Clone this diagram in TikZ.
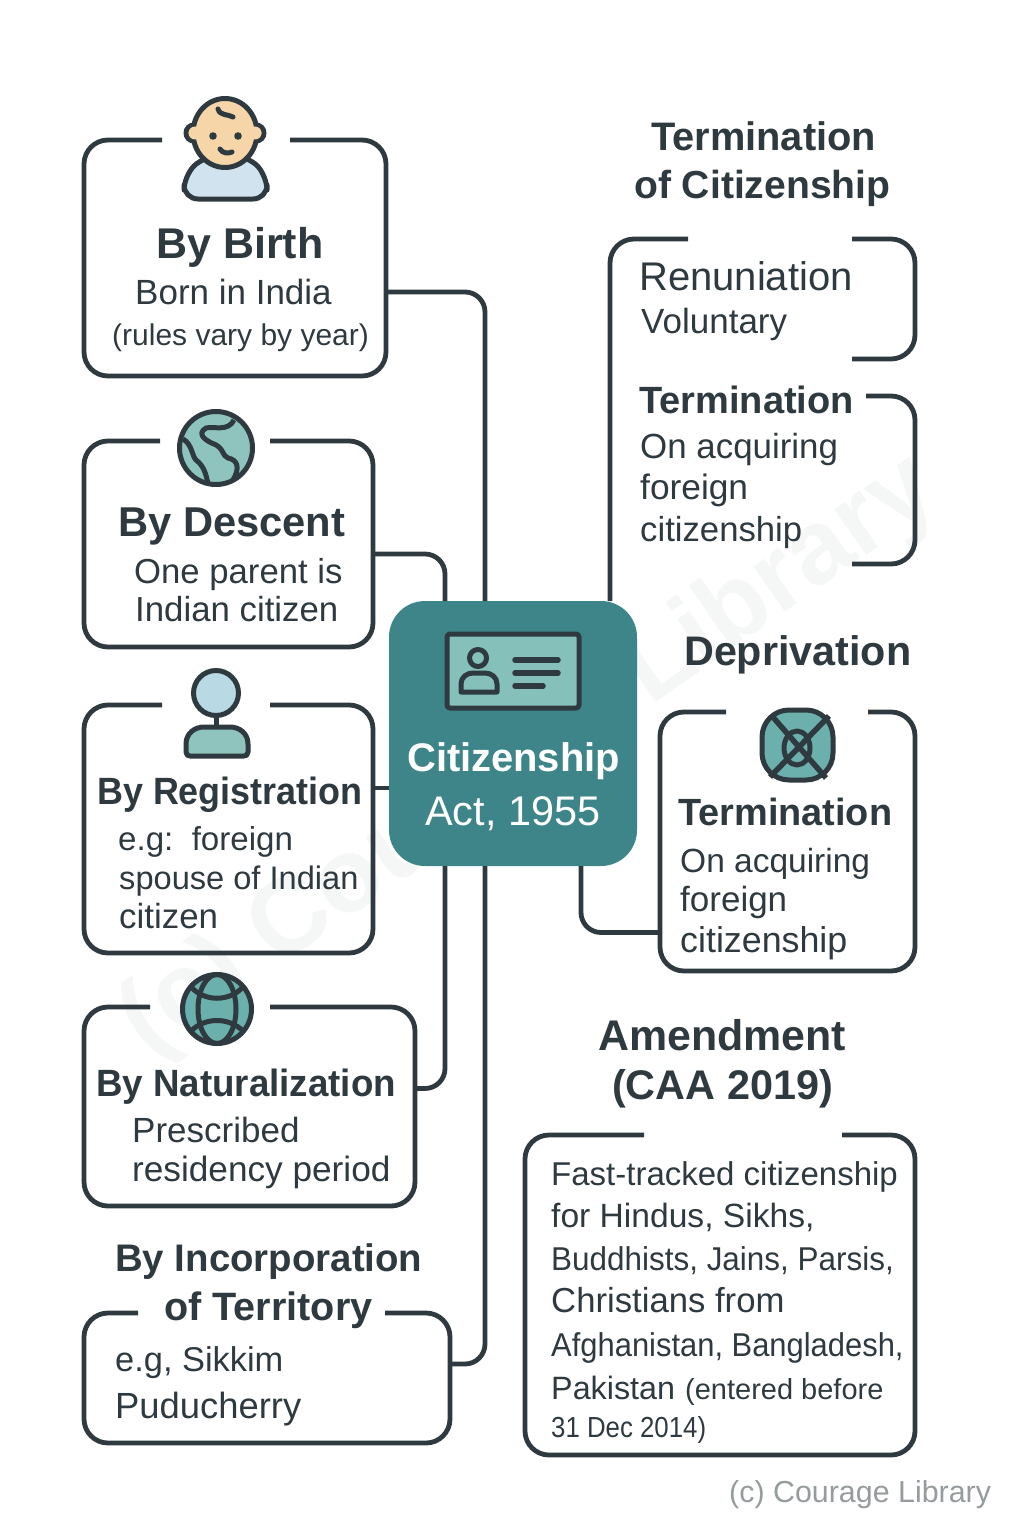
\documentclass[tikz,border=0pt]{standalone}
\usepackage{fontspec}
\usepackage{xcolor}
\usepackage{tikz}
\setmainfont{Liberation Sans}
\definecolor{ink}{RGB}{46, 58, 64}
\definecolor{actteal}{RGB}{62, 133, 138}
\definecolor{cardteal}{RGB}{133, 193, 186}
\definecolor{skin}{RGB}{246, 213, 168}
\definecolor{shirt}{RGB}{210, 227, 240}
\definecolor{globeteal}{RGB}{143, 196, 190}
\definecolor{headblue}{RGB}{185, 218, 229}
\definecolor{darkteal}{RGB}{107, 176, 172}
\definecolor{stamp}{RGB}{150, 155, 158}
\definecolor{ghost}{RGB}{245, 246, 246}
\newcommand{\fs}[1]{\fontsize{#1}{#1}\selectfont}
\newcommand{\squeeze}[2]{\scalebox{#1}[1]{#2}}
\newcommand{\openpanel}[3]{\draw[frame] ([xshift=#2pt]#1.north west) -- (#1.north west) -- (#1.south west) -- (#1.south east) -- (#1.north east) -- ([xshift=-#3pt]#1.north east);}
\tikzset{
	panel/.style = {rectangle, inner sep=0pt, outer sep=0pt},
	frame/.style = {draw=ink, line width=4.8pt, rounded corners=24pt},
	wire/.style = {draw=ink, line width=4.8pt, rounded corners=20pt},
	icon/.style = {draw=ink, line width=5pt, line join=round},
	lab/.style = {anchor=base west, inner sep=0pt, text=ink},
}
\begin{document}
\begin{tikzpicture}[x=1pt, y=-1pt]
	\useasboundingbox (0,0) rectangle (1024,1536);
	\node[rotate=35, text=ghost, font=\bfseries\fs{105}] (mark) at (530,758) {(c) Courage Library};

	% boxes
	\node[panel, minimum width=302pt, minimum height=236pt] (birth) at (235,258) {};
	\node[panel, minimum width=289pt, minimum height=206pt] (descent) at (228.5,544) {};
	\node[panel, minimum width=289pt, minimum height=248pt] (registration) at (228.5,829) {};
	\node[panel, minimum width=331pt, minimum height=199pt] (naturalization) at (249.5,1106.5) {};
	\node[panel, minimum width=366pt, minimum height=130pt] (incorporation) at (267,1378) {};
	\node[panel, minimum width=305pt, minimum height=120pt] (renunciation) at (762.5,299) {};
	\node[panel, minimum width=305pt, minimum height=168pt] (termination) at (762.5,480) {};
	\node[panel, minimum width=255pt, minimum height=259pt] (deprivation) at (787.5,841.5) {};
	\node[panel, minimum width=390pt, minimum height=320pt] (amendment) at (720,1295) {};
	\node[panel, fill=actteal, rounded corners=36pt, minimum width=248pt, minimum height=265pt] (act) at (513,733.5) {};

	% connectors
	\draw[wire] ([yshift=-34pt]birth.east) -| ([xshift=-28pt]act.north);
	\draw[wire] ([yshift=-10pt]descent.east) -| ([xshift=-68pt]act.north);
	\draw[wire] ([yshift=41pt]registration.east) -- ([yshift=-54.5pt]act.west);
	\draw[wire] ([yshift=18pt]naturalization.east) -| ([xshift=-68pt]act.south);
	\draw[wire] ([yshift=14pt]incorporation.east) -| ([xshift=-28pt]act.south);
	\draw[wire] ([yshift=-91pt]deprivation.west) -| ([xshift=68pt]act.south);
	\draw[frame] ([xshift=78pt]renunciation.north west) -- (renunciation.north west) -- (renunciation.west |- act.north);

	\openpanel{birth}{78}{96}
	\openpanel{descent}{76}{103}
	\openpanel{registration}{78}{103}
	\openpanel{naturalization}{66}{145}
	\openpanel{incorporation}{54}{65}
	\openpanel{deprivation}{66}{47}
	\openpanel{amendment}{119}{73}
	\draw[frame] ([xshift=-63pt]renunciation.north east) -- (renunciation.north east) -- (renunciation.south east) -- ([xshift=-63pt]renunciation.south east);
	\draw[frame] ([xshift=-49pt]termination.north east) -- (termination.north east) -- (termination.south east) -- ([xshift=-63pt]termination.south east);

	% baby
	\draw[icon, fill=shirt, rounded corners=14pt] (184,199) -- (184,176) -- (204,156) -- (248,156) -- (267,176) -- (267,199) -- cycle;
	\draw[icon, fill=skin] (194,133) circle (8);
	\draw[icon, fill=skin] (256,133) circle (8);
	\draw[icon, fill=skin] (225,133) ellipse (32 and 34.5);
	\fill[skin] (195,133) circle (6.5) (255,133) circle (6.5);
	\fill[ink] (213,136) circle (3.8) (238,136) circle (3.8);
	\draw[ink, line width=5pt, line cap=round] (218,109) .. controls (220,116) and (228,114) .. (233,117);
	\draw[ink, line width=5pt, line cap=round] (220,149) .. controls (222,153) and (228,154) .. (232,152);

	% first globe
	\draw[icon, fill=globeteal] (216,448) circle (36.5);
	\draw[ink, line width=5pt] (234,420) .. controls (228,432) and (214,426) .. (206,428) .. controls (196,434) and (206,441) .. (214,444) .. controls (224,448) and (222,456) .. (228,458) .. controls (238,460) and (240,468) .. (233,480);
	\draw[ink, line width=5pt] (183,439) .. controls (192,444) and (192,456) .. (196,460) .. controls (204,466) and (206,474) .. (208,484);

	% person
	\draw[icon] (216,716) -- (216,730);
	\draw[icon, fill=headblue] (216,693) circle (22.5);
	\draw[icon, fill=globeteal] (186,752) -- (186,744) .. controls (186,733) and (195,727) .. (204,727) -- (230,727) .. controls (239,727) and (248,733) .. (248,744) -- (248,752) .. controls (248,755) and (246,756) .. (244,756) -- (190,756) .. controls (188,756) and (186,755) .. (186,752) -- cycle;

	% second globe
	\draw[icon, fill=darkteal] (217,1009) circle (34.5);
	\draw[icon] (217,1009) ellipse (19 and 34.5);
	\draw[icon] (191,987) .. controls (205,1002) and (229,1002) .. (243,987);
	\draw[icon] (191,1031) .. controls (205,1017) and (229,1017) .. (243,1031);

	% card
	\draw[icon, fill=cardteal, rounded corners=3pt] (447,634) rectangle (579,708);
	\draw[icon] (478,658) circle (8.5);
	\draw[icon] (461,692) -- (461,684) .. controls (461,677) and (467,673) .. (473,673) -- (485,673) .. controls (491,673) and (497,677) .. (497,684) -- (497,692) -- cycle;
	\draw[ink, line width=5.5pt, line cap=round] (515,660) -- (558,660);
	\draw[ink, line width=5.5pt, line cap=round] (515,673) -- (558,673);
	\draw[ink, line width=5.5pt, line cap=round] (515,686) -- (543,686);

	% crossed disc
	\draw[icon, fill=darkteal, rounded corners=27pt] (762,710) rectangle (833,780);
	\draw[icon] (797,748) ellipse (13 and 17);
	\draw[ink, line width=5.5pt] (772,716) -- (826,778);
	\draw[ink, line width=5.5pt] (829,716) -- (770,777);

	% left column
	\node[lab, font=\bfseries\fs{43}] (birthhead) at (156,258.5) {By Birth};
	\node[lab, font=\fs{35}] (birthone) at (135,304) {Born in India};
	\node[lab, font=\fs{30}] (birthtwo) at (112,345) {(rules vary by year)};
	\node[lab, font=\bfseries\fs{41.7}] (descenthead) at (118,536.5) {By Descent};
	\node[lab, font=\fs{34.7}] (descentone) at (134,583.5) {One parent is};
	\node[lab, font=\fs{34.8}] (descenttwo) at (135,621.5) {Indian citizen};
	\node[lab, font=\bfseries\fs{38}] (reghead) at (97,804.5) {\squeeze{0.945}{By Registration}};
	\node[lab, font=\fs{33.1}] (regone) at (118,850) {e.g:\ \ foreign};
	\node[lab, font=\fs{32.6}] (regtwo) at (119,889.5) {spouse of Indian};
	\node[lab, font=\fs{34.9}] (regthree) at (119,928.5) {citizen};
	\node[lab, font=\bfseries\fs{38}] (nathead) at (96,1096.5) {\squeeze{0.966}{By Naturalization}};
	\node[lab, font=\fs{35}] (natone) at (132,1142) {Prescribed};
	\node[lab, font=\fs{35.2}] (nattwo) at (132,1181.5) {residency period};
	\node[lab, font=\bfseries\fs{38.4}] (inchead) at (115,1271.5) {By Incorporation};
	\node[lab, font=\bfseries\fs{39.6}] (inctwo) at (164,1320.5) {of Territory};
	\node[lab, font=\fs{34.4}] (incone) at (115,1371) {e.g, Sikkim};
	\node[lab, font=\fs{36.4}] (incthree) at (115,1418) {Puducherry};

	% centre
	\node[lab, text=white, font=\bfseries\fs{39.9}] (acthead) at (407,771.5) {Citizenship};
	\node[lab, text=white, font=\fs{41.4}] (acttwo) at (425,825) {Act, 1955};

	% right column
	\node[lab, font=\bfseries\fs{39.8}] (termhead) at (651,150) {Termination};
	\node[lab, font=\bfseries\fs{39.1}] (termtwo) at (634,198) {of Citizenship};
	\node[lab, font=\fs{40}] (renone) at (639,290) {Renuniation};
	\node[lab, font=\fs{35}] (rentwo) at (641,333) {Voluntary};
	\node[lab, font=\bfseries\fs{38}] (tbhead) at (639,413) {Termination};
	\node[lab, font=\fs{34.9}] (tbone) at (640,458.5) {On acquiring};
	\node[lab, font=\fs{35.3}] (tbtwo) at (640,499) {foreign};
	\node[lab, font=\fs{34.7}] (tbthree) at (640,541) {citizenship};
	\node[lab, font=\bfseries\fs{41.3}] (dephead) at (684,665) {Deprivation};
	\node[lab, font=\bfseries\fs{37.9}] (dbhead) at (678,825.5) {Termination};
	\node[lab, font=\fs{33.5}] (dbone) at (680,872) {On acquiring};
	\node[lab, font=\fs{35}] (dbtwo) at (680,911.5) {foreign};
	\node[lab, font=\fs{35.8}] (dbthree) at (680,952) {citizenship};
	\node[lab, font=\bfseries\fs{42.9}] (amdhead) at (598,1050.5) {Amendment};
	\node[lab, font=\bfseries\fs{41.4}] (amdtwo) at (612,1099.5) {(CAA 2019)};
	\node[lab, font=\fs{33}] (amdone) at (551,1185) {Fast-tracked citizenship};
	\node[lab, font=\fs{33.6}] (amdb) at (551,1227) {for Hindus, Sikhs,};
	\node[lab, font=\fs{33}] (amdc) at (551,1270) {\squeeze{0.953}{Buddhists, Jains, Parsis,}};
	\node[lab, font=\fs{34.7}] (amdd) at (551,1312.5) {Christians from};
	\node[lab, font=\fs{33}] (amde) at (551,1356) {\squeeze{0.937}{Afghanistan, Bangladesh,}};
	\node[lab, font=\fs{32.3}] (amdf) at (551,1399) {Pakistan};
	\node[lab, font=\fs{29}] (amdg) at (685,1399) {(entered before};
	\node[lab, font=\fs{29}] (amdh) at (551,1437) {\squeeze{0.89}{31 Dec 2014)}};
	\node[lab, text=stamp, font=\fs{30.4}] (credit) at (729,1502) {(c) Courage Library};
\end{tikzpicture}
\end{document}
